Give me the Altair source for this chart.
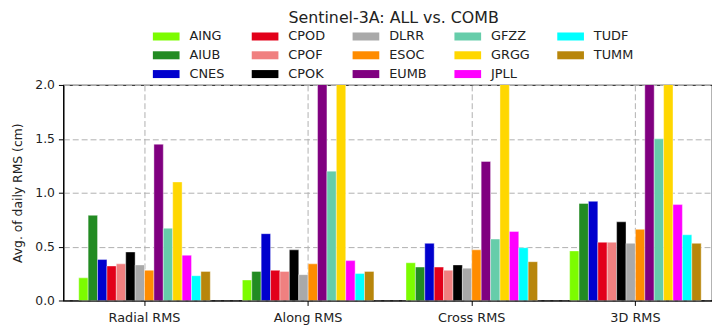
import altair as alt
import pandas as pd

centers = ["AING", "AIUB", "CNES", "CPOD", "CPOF", "CPOK", "DLRR",
           "ESOC", "EUMB", "GFZZ", "GRGG", "JPLL", "TUDF", "TUMM"]
colors = ["#7CFC00", "#228B22", "#0000CD", "#E2001A", "#F08080", "#000000", "#A9A9A9",
          "#FF8C00", "#800080", "#66CDAA", "#FFD700", "#FF00FF", "#00FFFF", "#B8860B"]
components = ["Radial RMS", "Along RMS", "Cross RMS", "3D RMS"]

radial = [0.21, 0.79, 0.38, 0.32, 0.34, 0.45, 0.33, 0.28, 1.45, 0.67, 1.10, 0.42, 0.23, 0.27]
along = [0.19, 0.27, 0.62, 0.28, 0.27, 0.47, 0.24, 0.34, 2.60, 1.20, 3.40, 0.37, 0.25, 0.27]
cross = [0.35, 0.31, 0.53, 0.31, 0.28, 0.33, 0.30, 0.47, 1.29, 0.57, 3.00, 0.64, 0.49, 0.36]
rms3d = [0.46, 0.90, 0.92, 0.54, 0.54, 0.73, 0.53, 0.66, 2.90, 1.50, 3.60, 0.89, 0.61, 0.53]

rows = []
for comp, vals in zip(components, [radial, along, cross, rms3d]):
    for c, v in zip(centers, vals):
        rows.append({"component": comp, "center": c, "value": v})
df = pd.DataFrame(rows)

grid_color = "#b0b0b0"

chart = alt.Chart(df).mark_bar(clip=True, stroke="white", strokeWidth=0.4).encode(
    x=alt.X(
        "component:N", sort=components,
        scale=alt.Scale(paddingInner=0.196, paddingOuter=0.08, align=0.587),
        axis=alt.Axis(title=None, labelAngle=0, grid=True, gridDash=[6, 3], gridColor=grid_color,
                      gridOpacity=1, bandPosition=0.5, tickColor="black", domainColor="black",
                      labelFontSize=13, labelColor="#222222", tickSize=5, labelPadding=6),
    ),
    xOffset=alt.XOffset("center:N", sort=centers, scale=alt.Scale(paddingInner=0, paddingOuter=0)),
    y=alt.Y(
        "value:Q",
        scale=alt.Scale(domain=[0, 2], nice=False),
        axis=alt.Axis(values=[0, 0.5, 1, 1.5, 2], format=".1f", title="Avg. of daily RMS (cm)",
                      titleFontSize=12.5, titleFontWeight="normal", titleColor="#222222",
                      titlePadding=10, grid=True, gridDash=[6, 3], gridColor=grid_color, gridOpacity=1,
                      tickColor="black", domainColor="black", labelFontSize=12.5,
                      labelColor="#222222", tickSize=5, labelPadding=4),
    ),
    color=alt.Color(
        "center:N",
        scale=alt.Scale(domain=centers, range=colors),
        legend=alt.Legend(orient="none", legendX=97, legendY=-56, columns=5, columnPadding=27,
                          rowPadding=5, symbolType="M-2,-0.6H2V0.6H-2Z", symbolSize=182,
                          symbolStrokeWidth=0, symbolOpacity=1, labelFontSize=13, labelOffset=16.5,
                          labelColor="#222222", title=None, padding=0, gridAlign="each"),
    ),
).properties(
    width=656,
    height=218,
    autosize=alt.AutoSizeParams(type="none"),
    padding={"left": 56, "top": 76, "right": 0, "bottom": 26},
    title=alt.Title("Sentinel-3A: ALL vs. COMB", fontSize=16, fontWeight="normal",
                    anchor="middle", color="#222222", offset=4, dx=6),
).configure(
    font="DejaVu Sans",
).configure_view(
    stroke="black", strokeWidth=1.2,
)

chart.save("out.html", embed_options={"renderer": "svg", "actions": False})
